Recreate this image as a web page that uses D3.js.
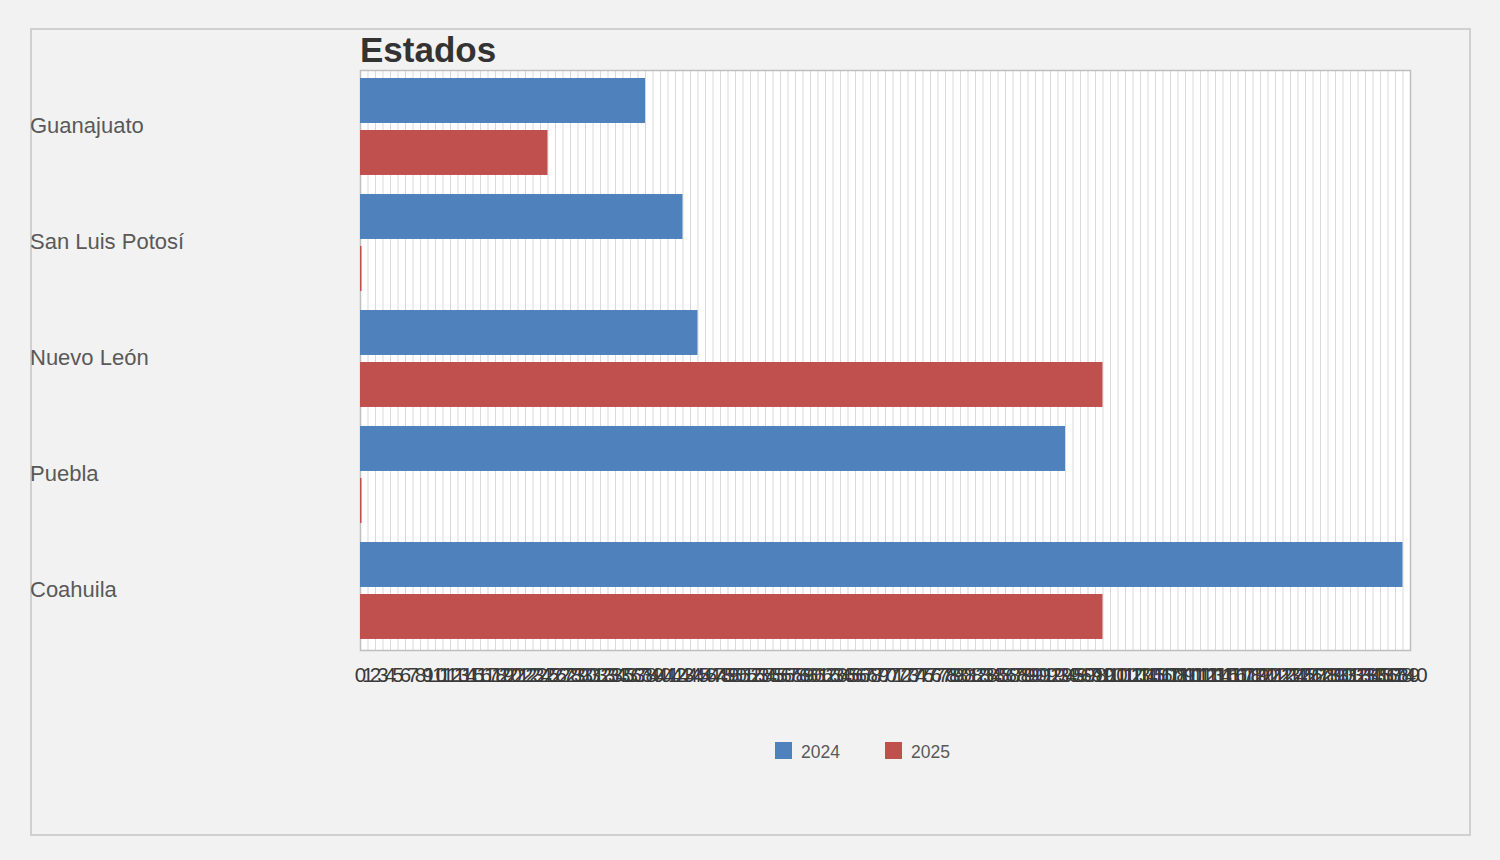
<!DOCTYPE html>
<html>
<head>
<meta charset="utf-8">
<script src="https://cdn.jsdelivr.net/npm/d3@7"></script>
<style>
  body { margin: 0; background: #f2f2f2; }
  text { font-family: "Liberation Sans", Arial, sans-serif; }
</style>
</head>
<body>
<div id="chart"></div>
<script>
// data
var estados = ["Guanajuato", "San Luis Potosí", "Nuevo León", "Puebla", "Coahuila"];
var series = ["2024", "2025"];
var valores2024 = [38, 43, 45, 94, 139];
var valores2025 = [25, 0, 99, 0, 99];
var colores = ["#4f81bd", "#c0504d"];
var xMax = 140;

var svgWidth = 1500;
var svgHeight = 860;

var margin = { top: 70, right: 90, bottom: 210, left: 360 };
var width = svgWidth - margin.left - margin.right;
var height = svgHeight - margin.top - margin.bottom;

var svg = d3.select("#chart")
  .append("svg")
  .attr("width", svgWidth)
  .attr("height", svgHeight);

// outer frame
svg.append("rect")
  .attr("x", 31).attr("y", 29)
  .attr("width", 1439).attr("height", 806)
  .attr("fill", "#f2f2f2")
  .attr("stroke", "#d0d0d0")
  .attr("stroke-width", 2);

var chartGroup = svg.append("g")
  .attr("transform", `translate(${margin.left}, ${margin.top})`);

var data = estados.map(function(e, i) {
  return { estado: e, values: [valores2024[i], valores2025[i]] };
});

// scales
var xScale = d3.scaleLinear().domain([0, xMax]).range([0, width]);

var y0 = d3.scaleBand()
  .domain(estados)
  .range([0, height])
  .paddingInner(0.164)
  .paddingOuter(0.082)
  .align(0.42);

var y1 = d3.scaleBand()
  .domain(series)
  .range([0, y0.bandwidth()])
  .paddingInner(0.135);

// plot background
chartGroup.append("rect")
  .attr("width", width)
  .attr("height", height)
  .attr("fill", "#ffffff");

// vertical gridlines, one per unit
chartGroup.append("g")
  .selectAll("line")
  .data(d3.range(0, xMax + 1))
  .enter()
  .append("line")
  .attr("x1", d => xScale(d) + 0.5)
  .attr("x2", d => xScale(d) + 0.5)
  .attr("y1", 0)
  .attr("y2", height)
  .attr("stroke", "#d9d9d9")
  .attr("stroke-width", 1);

// plot border
chartGroup.append("rect")
  .attr("x", 0.5).attr("y", 0.5)
  .attr("width", width).attr("height", height)
  .attr("fill", "none")
  .attr("stroke", "#bfbfbf")
  .attr("stroke-width", 1.5);

// bars
var groups = chartGroup.selectAll(".grupo")
  .data(data)
  .enter()
  .append("g")
  .attr("class", "grupo")
  .attr("transform", d => `translate(0, ${y0(d.estado)})`);

groups.selectAll("rect")
  .data(d => d.values.map((v, i) => ({ serie: series[i], value: v, idx: i })))
  .enter()
  .append("rect")
  .attr("x", xScale(0))
  .attr("y", d => y1(d.serie))
  .attr("width", d => Math.max(xScale(d.value) - xScale(0), 1.5))
  .attr("height", y1.bandwidth())
  .attr("fill", d => colores[d.idx]);

// x axis tick labels (they overlap in the original too)
var bottomAxis = d3.axisBottom(xScale)
  .tickValues(d3.range(0, xMax + 1))
  .tickSize(0)
  .tickPadding(17)
  .tickFormat(d3.format("d"));

var xAxis = chartGroup.append("g")
  .attr("transform", `translate(0, ${height})`)
  .call(bottomAxis);
xAxis.select(".domain").remove();
xAxis.selectAll("text")
  .attr("font-size", 20.5)
  .attr("fill", "#3a3a3a")
  .attr("font-family", "'Liberation Sans', Arial, sans-serif");

// category labels at the left edge of the frame
svg.append("g")
  .selectAll("text")
  .data(estados)
  .enter()
  .append("text")
  .attr("x", 30)
  .attr("y", d => margin.top + y0(d) + y0.bandwidth() / 2 - 1)
  .attr("dy", "0.35em")
  .attr("font-size", 22)
  .attr("fill", "#595959")
  .text(d => d);

// title
svg.append("text")
  .attr("x", 360)
  .attr("y", 62)
  .attr("font-size", 35)
  .attr("font-weight", "bold")
  .attr("fill", "#333333")
  .text("Estados");

// legend
var legend = svg.append("g")
  .attr("transform", "translate(775, 742)");

var legendItems = legend.selectAll("g")
  .data(series)
  .enter()
  .append("g")
  .attr("transform", (d, i) => `translate(${i * 110}, 0)`);

legendItems.append("rect")
  .attr("width", 17)
  .attr("height", 17)
  .attr("fill", (d, i) => colores[i]);

legendItems.append("text")
  .attr("x", 26)
  .attr("y", 15.5)
  .attr("font-size", 17.5)
  .attr("fill", "#595959")
  .text(d => d);
</script>
</body>
</html>
